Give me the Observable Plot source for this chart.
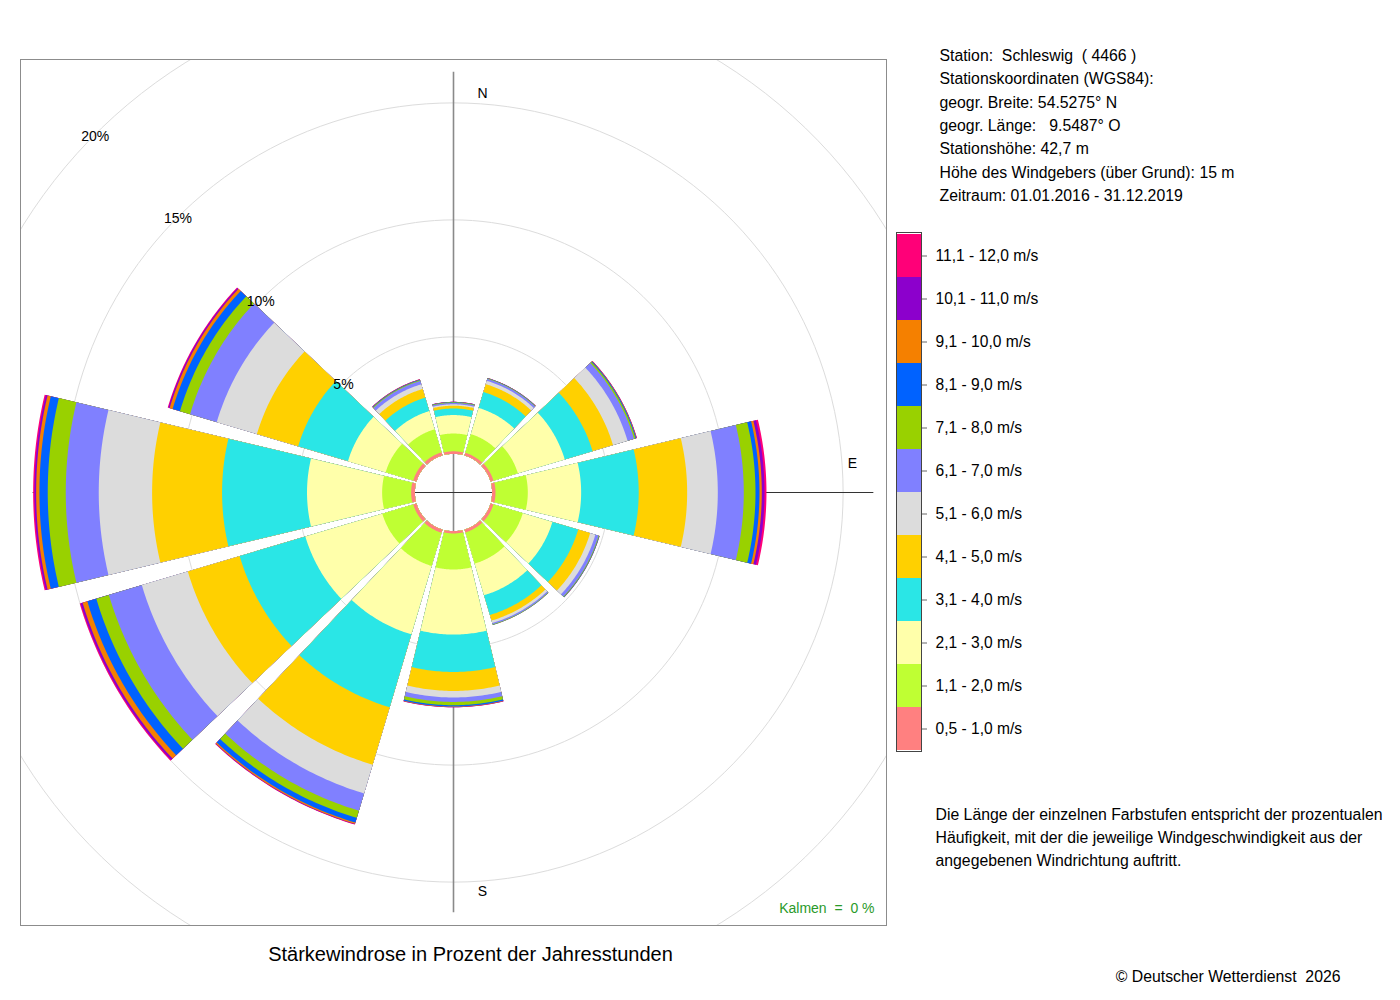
<!DOCTYPE html>
<html>
<head>
<meta charset="utf-8">
<script src="https://cdn.jsdelivr.net/npm/d3@7"></script>
<script src="https://cdn.jsdelivr.net/npm/@observablehq/plot@0.6"></script>
<style>
  html, body { margin: 0; padding: 0; background: #fff; }
  #wrap { position: relative; width: 1400px; height: 1000px; overflow: hidden; }
  #wrap svg { position: absolute; }
</style>
</head>
<body>
<div id="wrap"></div>
<script>
// ---------------- data ----------------
const directions = [0, 30, 60, 90, 120, 150, 180, 210, 240, 270, 300, 330];
const speedClasses = ["0,5 - 1,0 m/s", "1,1 - 2,0 m/s", "2,1 - 3,0 m/s", "3,1 - 4,0 m/s",
  "4,1 - 5,0 m/s", "5,1 - 6,0 m/s", "6,1 - 7,0 m/s", "7,1 - 8,0 m/s", "8,1 - 9,0 m/s",
  "9,1 - 10,0 m/s", "10,1 - 11,0 m/s", "11,1 - 12,0 m/s"];
const classColors = ["#ff8080", "#bfff33", "#ffffaa", "#2ae6e6", "#ffd000", "#dcdcdc",
  "#8080ff", "#99d100", "#0062ff", "#f58000", "#8c00cc", "#ff0078"];

// percent of hours per speed class, by direction (N, 30°, 60°, E, ..., 330°)
const s05_10  = [0.11, 0.12, 0.13, 0.145, 0.13, 0.13, 0.10, 0.145, 0.145, 0.16, 0.145, 0.14];
const s11_20  = [0.76, 0.83, 1.09, 1.38, 1.31, 1.39, 1.54, 1.48, 1.38, 1.24, 1.23, 1.03];
const s21_30  = [0.79, 1.17, 2.09, 2.28, 1.32, 1.41, 2.78, 3.05, 3.43, 3.21, 1.68, 0.81];
const s31_40  = [0.28, 0.71, 1.24, 2.46, 1.15, 0.88, 1.60, 3.25, 2.93, 3.63, 2.22, 0.60];
const s41_50  = [0.12, 0.35, 0.91, 2.07, 0.53, 0.25, 0.81, 2.56, 2.31, 2.99, 1.84, 0.385];
const s51_60  = [0.06, 0.15, 0.65, 1.31, 0.235, 0.11, 0.28, 1.28, 2.05, 2.28, 1.79, 0.21];
const s61_70  = [0.056, 0.085, 0.29, 1.11, 0.14, 0.056, 0.19, 0.77, 1.47, 1.41, 1.19, 0.15];
const s71_80  = [0.026, 0.021, 0.064, 0.50, 0.026, 0.017, 0.14, 0.32, 0.56, 0.77, 0.45, 0.034];
const s81_90  = [0.013, 0.013, 0.034, 0.17, 0.017, 0.009, 0.056, 0.21, 0.40, 0.355, 0.33, 0.021];
const s91_100 = [0.006, 0.004, 0.017, 0.10, 0.004, 0.004, 0.02, 0.056, 0.21, 0.14, 0.13, 0.009];
const s101_110 = [0.004, 0.002, 0.009, 0.115, 0.004, 0, 0.009, 0.021, 0.085, 0.073, 0.056, 0.009];
const s111_120 = [0.002, 0.002, 0.004, 0.085, 0, 0, 0.004, 0.013, 0.043, 0.056, 0.03, 0.004];
const seriesByClass = [s05_10, s11_20, s21_30, s31_40, s41_50, s51_60, s61_70, s71_80,
  s81_90, s91_100, s101_110, s111_120];

const calmPercent = 0;
const gridPercents = [5, 10, 15, 20];
const compassLabels = ["N", "E", "S", "W"];
const compassAngles = [0, 90, 180, 270];

const stationInfo = [
  "Station:  Schleswig  ( 4466 )",
  "Stationskoordinaten (WGS84):",
  "geogr. Breite: 54.5275° N",
  "geogr. Länge:   9.5487° O",
  "Stationshöhe: 42,7 m",
  "Höhe des Windgebers (über Grund): 15 m",
  "Zeitraum: 01.01.2016 - 31.12.2019"
];
const noteLines = [
  "Die Länge der einzelnen Farbstufen entspricht der prozentualen",
  "Häufigkeit, mit der die jeweilige Windgeschwindigkeit aus der",
  "angegebenen Windrichtung auftritt."
];
const titleText = "Stärkewindrose in Prozent der Jahresstunden";
const copyrightText = "© Deutscher Wetterdienst  2026";

// ---------------- layout ----------------
const FONT = "'Liberation Sans', Arial, Helvetica, sans-serif";
const frame = {left: 20, top: 59, right: 886, bottom: 925};
const pxPerPct = 23.4;
const halfX = (frame.right - frame.left) / 2 / pxPerPct;
const halfY = (frame.bottom - frame.top) / 2 / pxPerPct;
const hole = 1.65;          // inner empty circle (in % units)
const halfSector = 13.45;   // half angular width of a sector, degrees
const arcSteps = 40;

const rad = d => d * Math.PI / 180;

// sectors: painter's order, outermost cumulative first
const segments = [];
directions.forEach((dir, i) => {
  const vals = seriesByClass.map(s => s[i]);
  const cums = d3.cumsum(vals);
  for (let j = vals.length - 1; j >= 0; j--) {
    if (!(vals[j] > 0)) continue;
    const rOut = hole + cums[j];
    const id = dir + "-" + j;
    for (let k = 0; k <= arcSteps; k++) {
      const a = rad(dir - halfSector + 2 * halfSector * k / arcSteps);
      segments.push({id, cls: speedClasses[j], x: rOut * Math.sin(a), y: rOut * Math.cos(a)});
    }
    for (let k = arcSteps; k >= 0; k--) {
      const a = rad(dir - halfSector + 2 * halfSector * k / arcSteps);
      segments.push({id, cls: speedClasses[j], x: hole * Math.sin(a), y: hole * Math.cos(a)});
    }
  }
});

const totals = directions.map((d, i) => d3.sum(seriesByClass, s => s[i]));
const axisLen = hole + d3.max(totals);

const circles = [];
gridPercents.forEach(p => {
  for (let k = 0; k <= 360; k += 2) {
    circles.push({p, x: (hole + p) * Math.sin(rad(k)), y: (hole + p) * Math.cos(rad(k))});
  }
});

const labelAngle = 315;
const compassR = 17.05, compassOff = 1.24;
const compassData = compassLabels.map((t, i) => {
  const a = rad(compassAngles[i]);
  const ox = (compassAngles[i] % 180 === 0) ? compassOff : 0;
  const oy = (compassAngles[i] % 180 === 0) ? 0 : compassOff;
  return {t, x: compassR * Math.sin(a) + ox, y: compassR * Math.cos(a) + oy};
});

const textAt = (px, py, text, o = {}) => Plot.text([text], {
  frameAnchor: "top-left", dx: px - frame.left, dy: py - frame.top,
  text: d => d, lineAnchor: "middle", textAnchor: "start", fontSize: 15.8, fill: "#000", ...o
});

const chart = Plot.plot({
  width: 1400, height: 1000,
  marginLeft: frame.left, marginRight: 1400 - frame.right,
  marginTop: frame.top, marginBottom: 1000 - frame.bottom,
  style: {fontFamily: FONT, background: "#fff", overflow: "visible"},
  x: {domain: [-halfX, halfX], axis: null},
  y: {domain: [-halfY, halfY], axis: null},
  color: {domain: speedClasses, range: classColors},
  marks: [
    Plot.line(circles, {x: "x", y: "y", z: "p", stroke: "#dcdcdc", strokeWidth: 1, clip: true}),
    Plot.ruleX([0], {y1: -axisLen, y2: axisLen, stroke: "#8a8a8a", strokeWidth: 1.6}),
    Plot.ruleY([0], {x1: -axisLen, x2: axisLen, stroke: "#333", strokeWidth: 1}),
    Plot.text(compassData, {x: "x", y: "y", text: "t", fontSize: 14, fill: "#000"}),
    Plot.line(segments, {x: "x", y: "y", z: "id", fill: "cls", stroke: "none", curve: "linear-closed"}),
    Plot.text(gridPercents, {
      x: p => (hole + p) * Math.sin(rad(labelAngle)),
      y: p => (hole + p) * Math.cos(rad(labelAngle)) - 0.08,
      text: p => p + "%", fontSize: 14, fill: "#000"
    }),
    Plot.frame({stroke: "#8c8c8c", strokeWidth: 1}),
    Plot.text([calmPercent], {
      frameAnchor: "bottom-right", dx: -12, dy: -17, lineAnchor: "middle", textAnchor: "end",
      text: d => "Kalmen  =  " + d + " %", fontSize: 14, fill: "#2a9a2a"
    }),
    ...stationInfo.map((t, i) => textAt(939, 55.5 + 23.3 * i, t)),
    ...noteLines.map((t, i) => textAt(935, 814 + 23 * i, t)),
    textAt(470, 954, titleText, {textAnchor: "middle", fontSize: 20}),
    textAt(1340, 976, copyrightText, {textAnchor: "end"})
  ]
});
chart.style.whiteSpace = "pre";
chart.style.left = "0px";
chart.style.top = "0px";

// ---------------- legend ----------------
const legend = Plot.plot({
  width: 166, height: 521,
  marginLeft: 1, marginRight: 140, marginTop: 1, marginBottom: 1,
  style: {fontFamily: FONT, background: "transparent", overflow: "visible"},
  x: {domain: [0, 1], axis: null},
  y: {type: "band", domain: speedClasses.slice().reverse(), padding: 0, axis: null},
  color: {domain: speedClasses, range: classColors},
  marks: [
    Plot.barX(speedClasses, {x1: 0, x2: 1, y: d => d, fill: d => d}),
    Plot.frame({stroke: "#444", strokeWidth: 1}),
    Plot.axisY({anchor: "right", tickSize: 5, tickPadding: 9, fontSize: 15.6, stroke: "#666", label: null})
  ]
});
legend.style.left = "895px";
legend.style.top = "231px";

const wrap = document.getElementById("wrap");
wrap.appendChild(chart);
wrap.appendChild(legend);
</script>
</body>
</html>
